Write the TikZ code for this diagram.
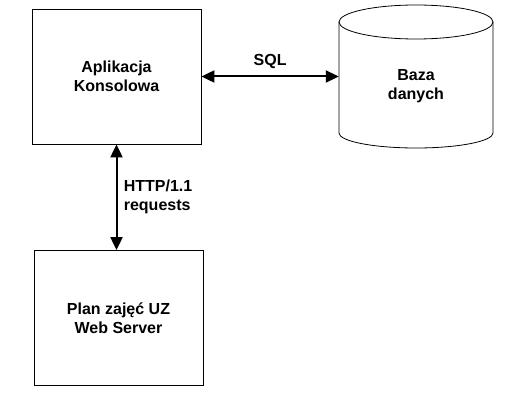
\documentclass[tikz,border=0pt]{standalone}
\usepackage{fontspec}
\setmainfont{Liberation Sans}
\usetikzlibrary{arrows.meta}
\begin{document}
\begin{tikzpicture}[x=1pt,y=-1pt,
    every node/.style={font=\fontsize{16}{19}\selectfont\bfseries},
    block/.style={draw, line width=0.8pt, minimum width=169pt, minimum height=135pt, align=center},
    db/.style={minimum width=154pt, minimum height=143pt, inner sep=0pt},
    link/.style={line width=2pt, {Triangle[length=13pt,width=12pt]}-{Triangle[length=13pt,width=12pt]}}]
    \useasboundingbox (0,0) rectangle (511,414);

    \node[block] (app) at (116.5,76.5) {Aplikacja\\Konsolowa};
    \node[block] (server) at (118.5,318) {Plan zajęć UZ\\Web Server};

    % database cylinder
    \node[db, label={[yshift=-10pt, align=center]center:Baza\\danych}] (base) at (416,76.5) {};
    \draw[line width=0.8pt] (416,22) ellipse [x radius=77, y radius=17];
    \draw[line width=0.8pt] (339,22) -- (339,133) arc[start angle=180, end angle=0, x radius=77, y radius=15] -- (493,22);

    \draw[link] (app.east) -- node[above=4pt] (sql) {SQL} (base.west);
    \draw[link] (app.south) -- node[right=3pt, align=left] (http) {HTTP/1.1\\requests} (app.south |- server.north);
\end{tikzpicture}
\end{document}
